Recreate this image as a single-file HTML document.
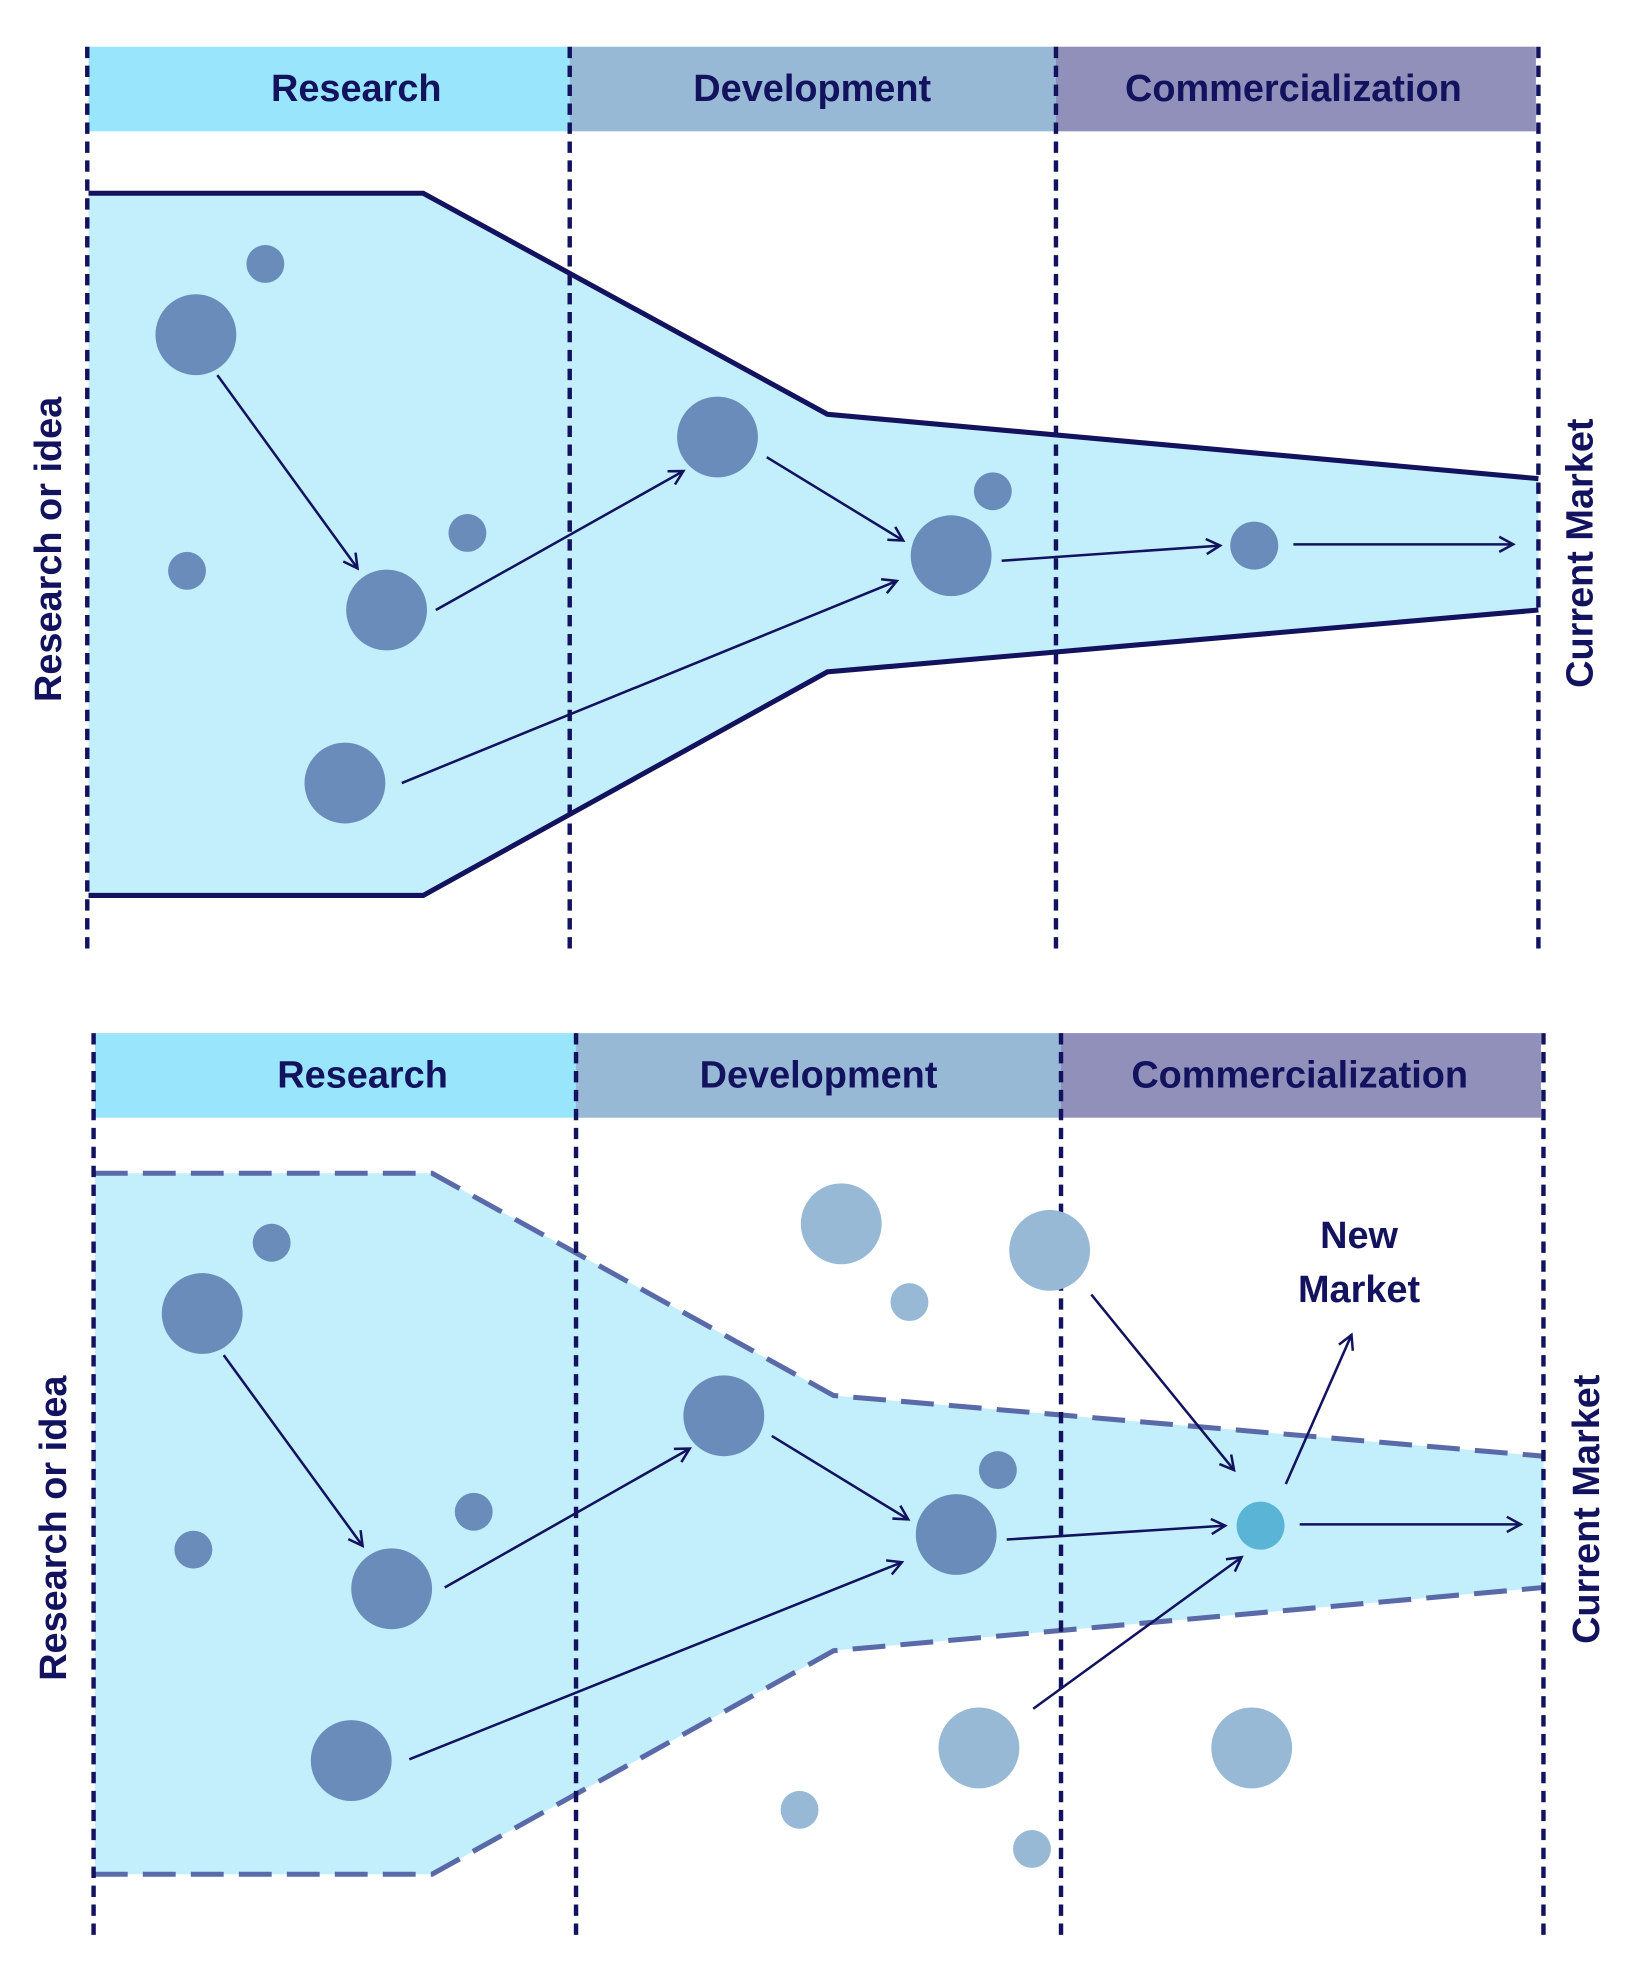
<!DOCTYPE html>
<html><head><meta charset="utf-8"><style>html,body{margin:0;padding:0;background:#fff}svg{display:block}</style></head>
<body>
<svg width="1632" height="1974" viewBox="0 0 1292 1563" xmlns="http://www.w3.org/2000/svg" font-family="Liberation Sans, sans-serif">
<defs>
<marker id="a" markerWidth="14" markerHeight="14" refX="12" refY="7" orient="auto" markerUnits="userSpaceOnUse">
<path d="M1,1 L12,7 L1,13" fill="none" stroke="#12125e" stroke-width="2"/>
</marker>
</defs>
<g id="top">
<rect x="70" y="37" width="381" height="67" fill="#98e5fc"/>
<rect x="451" y="37" width="385" height="67" fill="#97b9d6"/>
<rect x="836" y="37" width="380" height="67" fill="#9090bb"/>
<g font-size="30" font-weight="bold" fill="#12125e" text-anchor="middle">
<text x="282" y="80">Research</text>
<text x="643" y="80">Development</text>
<text x="1024" y="80">Commercialization</text>
</g>
<polygon points="70,153 335,153 655,328 1218,379 1218,483 655,532 335,709 70,709" fill="#c3eefc"/>
<polyline points="70,153 335,153 655,328 1218,379" fill="none" stroke="#12125e" stroke-width="4"/>
<polyline points="70,709 335,709 655,532 1218,483" fill="none" stroke="#12125e" stroke-width="4"/>
<g stroke="#12125e" stroke-width="3.5" stroke-dasharray="9 6">
<line x1="69" y1="37" x2="69" y2="752"/><line x1="451" y1="37" x2="451" y2="752"/>
<line x1="836" y1="37" x2="836" y2="752"/><line x1="1218" y1="37" x2="1218" y2="752"/>
</g>
<g fill="#6a8cbb">
<circle cx="155" cy="265" r="32"/><circle cx="210" cy="209" r="15"/><circle cx="148" cy="452" r="15"/>
<circle cx="306" cy="483" r="32"/><circle cx="370" cy="422" r="15"/><circle cx="273" cy="620" r="32"/>
<circle cx="568" cy="346" r="32"/><circle cx="786" cy="389" r="15"/><circle cx="753" cy="440" r="32"/>
<circle cx="993" cy="432" r="19"/>
</g>
<g stroke="#12125e" stroke-width="2" marker-end="url(#a)">
<line x1="172" y1="297" x2="283" y2="450"/><line x1="345" y1="483" x2="541" y2="373"/>
<line x1="318" y1="620" x2="710" y2="460"/><line x1="607" y1="362" x2="715" y2="428"/>
<line x1="793" y1="444" x2="966" y2="432"/><line x1="1024" y1="431" x2="1198" y2="431"/>
</g>
<g font-size="30" font-weight="bold" fill="#12125e" text-anchor="middle">
<text transform="translate(48,435) rotate(-90)">Research or idea</text>
<text transform="translate(1261,438) rotate(-90)">Current Market</text>
</g>
</g>
<g id="bot">
<rect x="75" y="818" width="381" height="67" fill="#98e5fc"/>
<rect x="456" y="818" width="384" height="67" fill="#97b9d6"/>
<rect x="840" y="818" width="380" height="67" fill="#9090bb"/>
<g font-size="30" font-weight="bold" fill="#12125e" text-anchor="middle">
<text x="287" y="861">Research</text>
<text x="648" y="861">Development</text>
<text x="1029" y="861">Commercialization</text>
</g>
<polygon points="75,929 342,929 660,1105 1222,1153 1222,1257 660,1307 342,1484 75,1484" fill="#c3eefc"/>
<g fill="none" stroke="#5a6aa8" stroke-width="4" stroke-dasharray="26 12">
<polyline points="75,929 342,929 660,1105 1222,1153"/>
<polyline points="75,1484 342,1484 660,1307 1222,1257"/>
</g>
<g stroke="#12125e" stroke-width="3.5" stroke-dasharray="9 6">
<line x1="74" y1="818" x2="74" y2="1532"/><line x1="456" y1="818" x2="456" y2="1532"/>
<line x1="840" y1="818" x2="840" y2="1532"/><line x1="1222" y1="818" x2="1222" y2="1532"/>
</g>
<g fill="#97b9d6">
<circle cx="666" cy="969" r="32"/><circle cx="720" cy="1031" r="15"/><circle cx="831" cy="990" r="32"/>
<circle cx="775" cy="1384" r="32"/><circle cx="633" cy="1433" r="15"/><circle cx="817" cy="1464" r="15"/>
<circle cx="991" cy="1384" r="32"/>
</g>
<g fill="#6a8cbb">
<circle cx="160" cy="1040" r="32"/><circle cx="215" cy="984" r="15"/><circle cx="153" cy="1227" r="15"/>
<circle cx="310" cy="1258" r="32"/><circle cx="375" cy="1197" r="15"/><circle cx="278" cy="1394" r="32"/>
<circle cx="573" cy="1121" r="32"/><circle cx="790" cy="1164" r="15"/><circle cx="757" cy="1215" r="32"/>
</g>
<circle cx="998" cy="1208" r="19" fill="#5ab4d6"/>
<g stroke="#12125e" stroke-width="2" marker-end="url(#a)">
<line x1="177" y1="1073" x2="287" y2="1224"/><line x1="352" y1="1257" x2="546" y2="1147"/>
<line x1="324" y1="1393" x2="714" y2="1237"/><line x1="611" y1="1137" x2="719" y2="1203"/>
<line x1="797" y1="1219" x2="970" y2="1208"/><line x1="1029" y1="1207" x2="1204" y2="1207"/>
<line x1="864" y1="1025" x2="977" y2="1164"/><line x1="818" y1="1353" x2="983" y2="1233"/>
<line x1="1018" y1="1175" x2="1070" y2="1057"/>
</g>
<g font-size="30" font-weight="bold" fill="#12125e" text-anchor="middle">
<text x="1076" y="988">New</text>
<text x="1076" y="1031">Market</text>
<text transform="translate(52,1210) rotate(-90)">Research or idea</text>
<text transform="translate(1266,1195) rotate(-90)">Current Market</text>
</g>
</g>
</svg>
</body></html>
